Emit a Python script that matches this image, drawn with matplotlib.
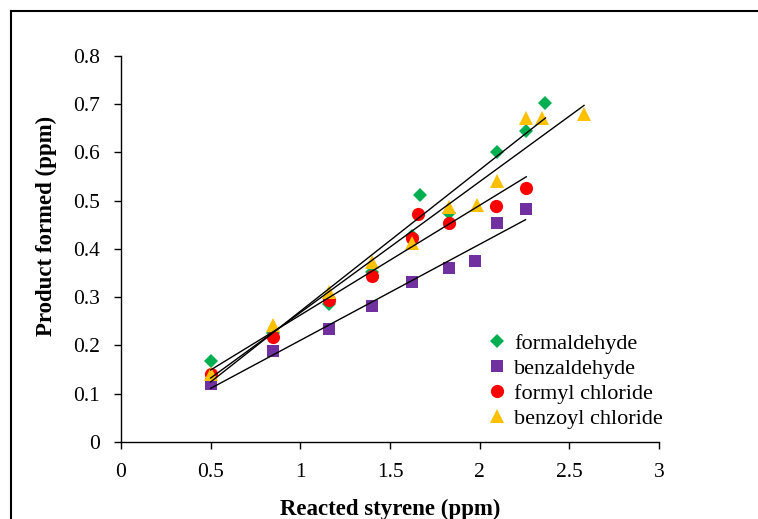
import numpy as np
import matplotlib.pyplot as plt
from matplotlib.lines import Line2D

plt.rcParams['font.family'] = ['Liberation Serif', 'DejaVu Serif']

# reacted styrene (ppm) vs product formed (ppm)
x_form = [0.50, 0.85, 1.16, 1.40, 1.62, 1.665, 1.83, 2.094, 2.256, 2.367]
y_form = [0.168, 0.225, 0.286, 0.352, 0.427, 0.511, 0.475, 0.602, 0.644, 0.702]

x_benz = [0.50, 0.85, 1.16, 1.40, 1.62, 1.83, 1.976, 2.094, 2.256]
y_benz = [0.121, 0.188, 0.235, 0.282, 0.332, 0.361, 0.375, 0.453, 0.482]

x_fcl = [0.50, 0.85, 1.16, 1.40, 1.62, 1.657, 1.83, 2.09, 2.26]
y_fcl = [0.141, 0.218, 0.294, 0.344, 0.422, 0.473, 0.453, 0.489, 0.527]

x_bcl = [0.50, 0.848, 1.158, 1.399, 1.62, 1.831, 1.985, 2.094, 2.256, 2.349, 2.582]
y_bcl = [0.140, 0.242, 0.311, 0.373, 0.413, 0.487, 0.491, 0.541, 0.671, 0.671, 0.679]

series = [
    ('formaldehyde', x_form, y_form, 'D', '#00B050', 7.5),
    ('benzaldehyde', x_benz, y_benz, 's', '#7030A0', 9),
    ('formyl chloride', x_fcl, y_fcl, 'o', '#FF0000', 9.5),
    ('benzoyl chloride', x_bcl, y_bcl, '^', '#FFC000', 10),
]

fig = plt.figure(figsize=(7.58, 5.19), dpi=100)
ax = fig.add_axes([0.1596, 0.1484, 0.7098, 0.7437])

for name, xs, ys, mk, col, ms in series:
    ax.plot(xs, ys, linestyle='none', marker=mk, color=col, markersize=ms,
            markeredgewidth=0, label=name, zorder=3)

# linear trendlines over each data range
for name, xs, ys, mk, col, ms in series:
    k, b = np.polyfit(xs, ys, 1)
    xx = np.array([min(xs), max(xs)])
    ax.plot(xx, k * xx + b, color='black', lw=1.0, zorder=4)

ax.set_xlim(0, 3)
ax.set_ylim(0, 0.8)
ax.set_xticks(np.arange(0, 3.01, 0.5))
ax.set_xticklabels(['0', '0.5', '1', '1.5', '2', '2.5', '3'])
ax.set_yticks(np.arange(0, 0.81, 0.1))
ax.set_yticklabels(['0', '0.1', '0.2', '0.3', '0.4', '0.5', '0.6', '0.7', '0.8'])
ax.spines['top'].set_visible(False)
ax.spines['right'].set_visible(False)
for s in ('left', 'bottom'):
    ax.spines[s].set_linewidth(1.0)
ax.tick_params(direction='out', length=5, width=1.0, labelsize=15.5)
ax.tick_params(axis='x', pad=10)
ax.tick_params(axis='y', pad=10)

ax.set_xlabel('Reacted styrene (ppm)', fontsize=16.5, fontweight='bold', labelpad=12)
ax.set_ylabel('Product formed (ppm)', fontsize=16.5, fontweight='bold', labelpad=12)
ax.yaxis.set_label_coords(-0.118, 0.56)

ax.legend(loc='upper left', bbox_to_anchor=(0.62, 0.388), bbox_transform=fig.transFigure,
          frameon=False, fontsize=16, handlelength=1.0, handletextpad=0.3,
          labelspacing=0.2, borderpad=0.2)

# outer chart frame (top and left edges)
fig.add_artist(Line2D([11 / 758, 1.0], [1 - 11 / 519, 1 - 11 / 519], color='black', lw=1.5,
                      transform=fig.transFigure))
fig.add_artist(Line2D([11 / 758, 11 / 758], [0.0, 1 - 11 / 519], color='black', lw=1.5,
                      transform=fig.transFigure))

fig.savefig('out.png', dpi=100)
